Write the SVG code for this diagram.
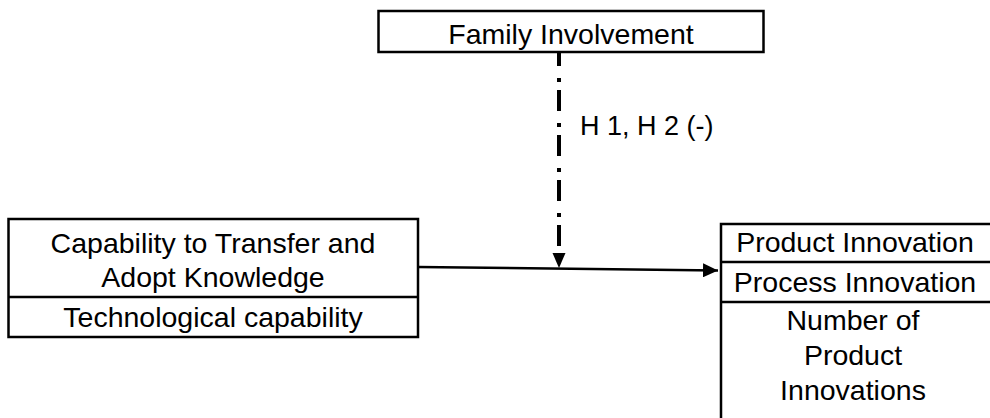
<svg xmlns="http://www.w3.org/2000/svg" width="990" height="418" viewBox="0 0 990 418">
  <style>
    .box { fill: #ffffff; stroke: #000000; stroke-width: 2.5; }
    .div { stroke: #000000; stroke-width: 2.5; }
    .t { font-family: "Liberation Sans", Arial, sans-serif; font-size: 28.5px; fill: #000000; text-anchor: middle; }
    .lbl { font-family: "Liberation Sans", Arial, sans-serif; font-size: 27px; fill: #000000; }
    .solid { fill: none; stroke: #000000; stroke-width: 2.5; }
    .dashed { fill: none; stroke: #000000; stroke-width: 4; stroke-dasharray: 21 12 4 8; stroke-dashoffset: 7; }
  </style>
  <defs>
    <marker id="arrowH" markerUnits="userSpaceOnUse" markerWidth="16" markerHeight="14" refX="15" refY="7" orient="auto">
      <path d="M0,0 L15,7 L0,14 Z" fill="#000000"/>
    </marker>
  </defs>

  <g id="node-family">
    <rect class="box" x="378.5" y="11" width="385" height="41"/>
    <text class="t" x="571" y="44">Family Involvement</text>
  </g>

  <g id="node-capability">
    <rect class="box" x="8.5" y="219" width="409.5" height="118"/>
    <line class="div" x1="8.5" y1="297" x2="418" y2="297"/>
    <text class="t" x="213" y="253">Capability to Transfer and</text>
    <text class="t" x="213" y="287">Adopt Knowledge</text>
    <text class="t" x="213" y="327">Technological capability</text>
  </g>

  <g id="node-innovation">
    <rect class="box" x="721" y="224" width="275" height="200"/>
    <line class="div" x1="721" y1="262" x2="996" y2="262"/>
    <line class="div" x1="721" y1="302" x2="996" y2="302"/>
    <text class="t" x="855" y="252">Product Innovation</text>
    <text class="t" x="855" y="292">Process Innovation</text>
    <text class="t" x="853" y="330">Number of</text>
    <text class="t" x="853" y="365">Product</text>
    <text class="t" x="853" y="400">Innovations</text>
  </g>

  <g id="connectors">
    <line class="solid" x1="418" y1="267" x2="718" y2="270.5" marker-end="url(#arrowH)"/>
    <line class="dashed" x1="559" y1="52" x2="559" y2="253"/>
    <polygon points="552.5,253 565.5,253 559,268" fill="#000000"/>
    <text class="lbl" x="580" y="135">H 1, H 2 (-)</text>
  </g>
</svg>
